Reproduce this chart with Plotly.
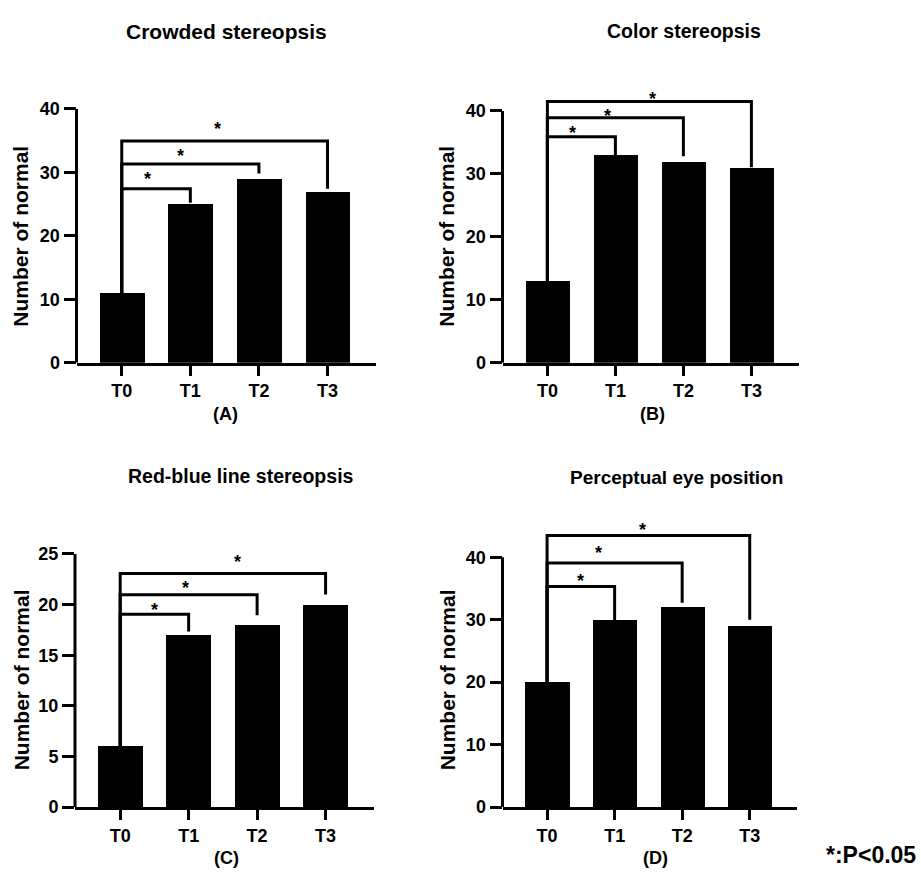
import plotly.graph_objects as go

W, H = 921, 876
FONT = "Liberation Sans, Arial, Helvetica, sans-serif"

# ---------------- data ----------------
categories = ["T0", "T1", "T2", "T3"]
titles = ["Crowded stereopsis", "Color stereopsis",
          "Red-blue line stereopsis", "Perceptual eye position"]
panel_labels = ["(A)", "(B)", "(C)", "(D)"]
y_title = "Number of normal"
note = "*:P<0.05"

crowded = [11, 25, 29, 27]
color = [13, 33, 32, 31]
redblue = [6, 17, 18, 20]
perceptual = [20, 30, 32, 29]

ticks_40 = [0, 10, 20, 30, 40]
ticks_25 = [0, 5, 10, 15, 20, 25]

# significance comparisons: T0 vs T1, T0 vs T2, T0 vs T3
comparisons = [(0, 1), (0, 2), (0, 3)]
star = "*"

# bracket heights (data units) and where the right leg ends
bracket_A = [27.4, 31.3, 34.9]
leg_end_A = [25.2, 29.8, 27.4]
bracket_B = [35.9, 38.9, 41.5]
leg_end_B = [33.0, 32.8, 31.05]
bracket_C = [19.05, 20.98, 23.07]
leg_end_C = [17.35, 18.95, 21.0]
bracket_D = [35.3, 39.1, 43.5]
leg_end_D = [29.85, 32.7, 30.0]

# star label placement (x in category units, y in data units)
star_x_A = [0.37, 0.86, 1.39]
star_y_A = [29.6, 33.2, 37.4]
star_x_B = [0.37, 0.88, 1.54]
star_y_B = [37.1, 39.9, 42.6]
star_x_C = [0.50, 0.96, 1.72]
star_y_C = [19.86, 22.0, 24.6]
star_x_D = [0.50, 0.76, 1.41]
star_y_D = [36.8, 41.4, 45.0]

# ---------------- layout geometry (pixels) ----------------
panels = [
    dict(vals=crowded, ticks=ticks_40, ymax_range=40, xdom=(76.5, 375.5), ydom=(101, 361),
         br=bracket_A, le=leg_end_A, sx=star_x_A, sy=star_y_A, title_size=21,
         title_xy=(226.5, 22), label_xy=(225, 413), ytitle_xy=(21, 232)),
    dict(vals=color, ticks=ticks_40, ymax_range=44, xdom=(502.5, 799), ydom=(77.5, 361),
         br=bracket_B, le=leg_end_B, sx=star_x_B, sy=star_y_B, title_size=19.5,
         title_xy=(684, 22), label_xy=(652, 413), ytitle_xy=(447, 232)),
    dict(vals=redblue, ticks=ticks_25, ymax_range=25, xdom=(75, 373.5), ydom=(556.7, 815.7),
         br=bracket_C, le=leg_end_C, sx=star_x_C, sy=star_y_C, title_size=19.5,
         title_xy=(240.5, 477), label_xy=(226, 867.5), ytitle_xy=(21, 686)),
    dict(vals=perceptual, ticks=ticks_40, ymax_range=46, xdom=(502.5, 797), ydom=(521.7, 815.7),
         br=bracket_D, le=leg_end_D, sx=star_x_D, sy=star_y_D, title_size=19,
         title_xy=(676, 478), label_xy=(655, 868), ytitle_xy=(447, 686)),
]

def px(x):
    return x / W

def py(y):
    return 1 - y / H

fig = go.Figure()
shapes = []
annotations = []
idx = list(range(len(categories)))

for i, p in enumerate(panels):
    n = "" if i == 0 else str(i + 1)
    xa, ya = "x" + n, "y" + n
    fig.add_trace(go.Bar(x=idx, y=p["vals"], xaxis=xa, yaxis=ya, width=0.655,
                         marker=dict(color="black", line=dict(width=0)),
                         showlegend=False, hoverinfo="skip"))
    axis_common = dict(showgrid=False, zeroline=False, ticks="outside",
                       tickcolor="black", tickwidth=3,
                       tickfont=dict(family=FONT, size=18, color="black", weight="bold"))
    fig.update_layout({
        "xaxis" + n: dict(domain=[px(p["xdom"][0]), px(p["xdom"][1])], anchor=ya,
                          range=[-0.66, 3.70], tickvals=idx, ticktext=categories,
                          showline=True, linecolor="black", linewidth=3, ticklen=10,
                          fixedrange=True, **axis_common),
        "yaxis" + n: dict(domain=[py(p["ydom"][1]), py(p["ydom"][0])], anchor=xa,
                          range=[0, p["ymax_range"]], tickvals=p["ticks"],
                          showline=False, ticklen=12, fixedrange=True, **axis_common),
    })
    # y axis line up to the last tick
    shapes.append(dict(type="line", xref=xa + " domain", yref=ya, x0=0, x1=0,
                       y0=0, y1=p["ticks"][-1], line=dict(color="black", width=3)))
    # significance brackets
    for k, (a, b) in enumerate(comparisons):
        h = p["br"][k]
        path = f"M {a},{p['vals'][a]} L {a},{h} L {b},{h} L {b},{p['le'][k]}"
        shapes.append(dict(type="path", xref=xa, yref=ya, path=path,
                           line=dict(color="black", width=3)))
        annotations.append(dict(x=p["sx"][k], y=p["sy"][k], xref=xa, yref=ya, text=star,
                                showarrow=False, yshift=-4,
                                font=dict(family=FONT, size=18, color="black", weight="bold")))
    # panel title
    annotations.append(dict(x=px(p["title_xy"][0]), y=py(p["title_xy"][1]), xref="paper",
                            yref="paper", text=titles[i], showarrow=False,
                            xanchor="center", yanchor="middle",
                            font=dict(family=FONT, size=p["title_size"], color="black",
                                      weight="bold")))
    # panel label
    annotations.append(dict(x=px(p["label_xy"][0]), y=py(p["label_xy"][1]), xref="paper",
                            yref="paper", text=panel_labels[i], showarrow=False,
                            xanchor="center", yanchor="middle",
                            font=dict(family=FONT, size=18, color="black", weight="bold")))
    # y axis title
    annotations.append(dict(x=px(p["ytitle_xy"][0]), y=py(p["ytitle_xy"][1]), xref="paper",
                            yref="paper", text=y_title, showarrow=False, textangle=-90,
                            xanchor="center", yanchor="middle",
                            font=dict(family=FONT, size=21, color="black", weight="bold")))

annotations.append(dict(x=px(918), y=py(865), xref="paper", yref="paper", text=note,
                        showarrow=False, xanchor="right", yanchor="middle",
                        font=dict(family=FONT, size=23, color="black", weight="bold")))

fig.update_layout(width=W, height=H, autosize=False,
                  margin=dict(l=0, r=0, t=0, b=0),
                  paper_bgcolor="white", plot_bgcolor="white",
                  shapes=shapes, annotations=annotations, bargap=0)

fig.write_html("out.html", config={"displayModeBar": False},
               post_script="document.body.style.margin='0px';"
                           "document.body.style.overflow='hidden';")
